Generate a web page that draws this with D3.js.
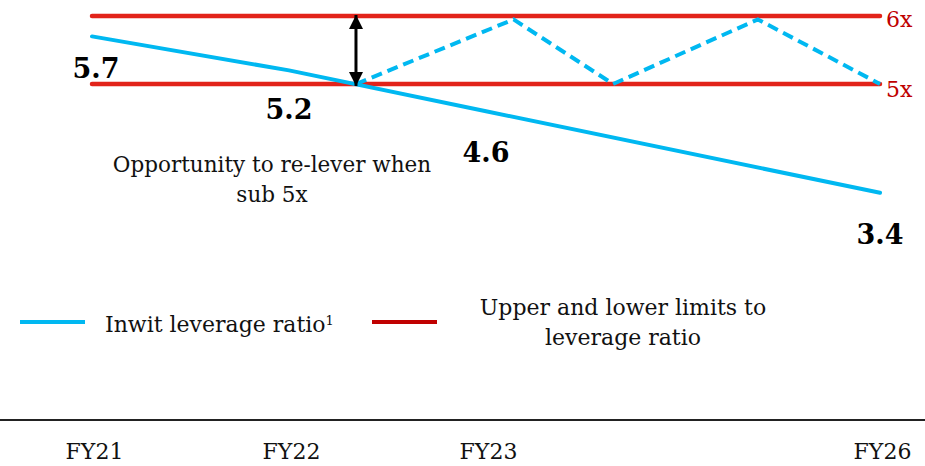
<!DOCTYPE html>
<html>
<head>
<meta charset="utf-8">
<script src="https://cdn.jsdelivr.net/npm/d3@7"></script>
<style>
  html, body { margin: 0; padding: 0; background: #fff; }
  svg { display: block; }
  text { font-family: "DejaVu Serif", "Liberation Serif", serif; }
</style>
</head>
<body>
<svg id="chart" width="925" height="466"></svg>
<script>
// Fiscal years on the axis and their position on the time scale (FY24/FY25 unlabeled)
const years = ["FY21", "FY22", "FY23", "FY26"];
const yearIndex = [0, 1, 2, 4];

// Inwit leverage ratio (x)
const leverage = [5.7, 5.2, 4.6, 3.4];

// Leverage band limits
const upperLimit = 6;
const lowerLimit = 5;

// Illustrative re-levering path once leverage drops below 5x
const releverT = [1.34, 2.14, 2.645, 3.38, 4];
const releverV = [5.0, 5.95, 5.0, 5.95, 5.0];

const BLUE = "#00B8F1";
const RED = "#E2231A";
const DARK_RED = "#C00000";

const svg = d3.select("#chart");

const x = d3.scaleLinear().domain([0, 4]).range([92, 880]);
const y = d3.scaleLinear().domain([lowerLimit, upperLimit]).range([84, 16]);

// Upper / lower limit lines
svg.selectAll("line.limit")
  .data([upperLimit, lowerLimit])
  .join("line")
  .attr("class", "limit")
  .attr("x1", x(0)).attr("x2", x(4))
  .attr("y1", d => y(d)).attr("y2", d => y(d))
  .attr("stroke", RED)
  .attr("stroke-width", 4.5)
  .attr("stroke-linecap", "round");

// Limit labels
svg.selectAll("text.limit")
  .data([upperLimit, lowerLimit])
  .join("text")
  .attr("class", "limit")
  .attr("x", x(4) + 6)
  .attr("y", (d, i) => y(d) + (i === 0 ? 11 : 13))
  .attr("fill", DARK_RED)
  .attr("font-size", 22)
  .text(d => d + "x");

// Re-levering dashed path
const relever = releverT.map((t, i) => [t, releverV[i]]);
svg.append("path")
  .datum(relever)
  .attr("d", d3.line().x(d => x(d[0])).y(d => y(d[1])))
  .attr("fill", "none")
  .attr("stroke", BLUE)
  .attr("stroke-width", 4)
  .attr("stroke-dasharray", "11,6");

// Leverage ratio line
const series = yearIndex.map((t, i) => [t, leverage[i]]);
svg.append("path")
  .datum(series)
  .attr("d", d3.line().x(d => x(d[0])).y(d => y(d[1])))
  .attr("fill", "none")
  .attr("stroke", BLUE)
  .attr("stroke-width", 4)
  .attr("stroke-linecap", "round");

// Double-headed arrow spanning the band
const defs = svg.append("defs");
defs.append("marker")
  .attr("id", "head")
  .attr("viewBox", "0 0 10 10")
  .attr("refX", 10).attr("refY", 5)
  .attr("markerWidth", 14).attr("markerHeight", 14)
  .attr("markerUnits", "userSpaceOnUse")
  .attr("orient", "auto-start-reverse")
  .append("path")
  .attr("d", "M0,0 L10,5 L0,10 Z")
  .attr("fill", "#000");

const arrowT = releverT[0];
svg.append("line")
  .attr("x1", x(arrowT)).attr("x2", x(arrowT))
  .attr("y1", y(upperLimit) - 1).attr("y2", y(lowerLimit) + 2)
  .attr("stroke", "#000")
  .attr("stroke-width", 3)
  .attr("marker-start", "url(#head)")
  .attr("marker-end", "url(#head)");

// Value labels
const labelDy = [42, 49, 51, 51];
svg.selectAll("text.value")
  .data(series)
  .join("text")
  .attr("class", "value")
  .attr("x", d => x(d[0]) + (d[0] === 0 ? 4 : 0))
  .attr("y", (d, i) => y(d[1]) + labelDy[i])
  .attr("text-anchor", "middle")
  .attr("font-size", 27)
  .attr("font-weight", "bold")
  .attr("fill", "#000")
  .text(d => d[1].toFixed(1));

// Annotation
const note = svg.append("text")
  .attr("text-anchor", "middle")
  .attr("font-size", 21.5)
  .attr("fill", "#111");
note.append("tspan").attr("x", 272).attr("y", 172).text("Opportunity to re-lever when");
note.append("tspan").attr("x", 272).attr("y", 202).text("sub 5x");

// Legend
const legend = svg.append("g");
legend.append("line")
  .attr("x1", 20).attr("x2", 85).attr("y1", 322).attr("y2", 322)
  .attr("stroke", BLUE).attr("stroke-width", 4);
const l1 = legend.append("text")
  .attr("x", 105).attr("y", 332)
  .attr("font-size", 22).attr("fill", "#111");
l1.append("tspan").text("Inwit leverage ratio");
l1.append("tspan").attr("font-size", 13).attr("dy", -7).text("1");

legend.append("line")
  .attr("x1", 372).attr("x2", 437).attr("y1", 322).attr("y2", 322)
  .attr("stroke", DARK_RED).attr("stroke-width", 4);
const l2 = legend.append("text")
  .attr("text-anchor", "middle")
  .attr("font-size", 22).attr("fill", "#111");
l2.append("tspan").attr("x", 623).attr("y", 315).text("Upper and lower limits to");
l2.append("tspan").attr("x", 623).attr("y", 345).text("leverage ratio");

// X axis
svg.append("line")
  .attr("x1", 0).attr("x2", 925).attr("y1", 420).attr("y2", 420)
  .attr("stroke", "#222").attr("stroke-width", 2);

const axis = d3.axisBottom(x)
  .tickValues(yearIndex)
  .tickFormat((d, i) => years[i])
  .tickSize(0)
  .tickPadding(0);

const gx = svg.append("g")
  .attr("transform", "translate(0,443)")
  .call(axis);
gx.select(".domain").remove();
gx.selectAll("text")
  .attr("font-family", "'DejaVu Serif', serif")
  .attr("font-size", 22)
  .attr("fill", "#111")
  .attr("dy", "0.71em")
  .attr("transform", "translate(2,0)");
</script>
</body>
</html>
